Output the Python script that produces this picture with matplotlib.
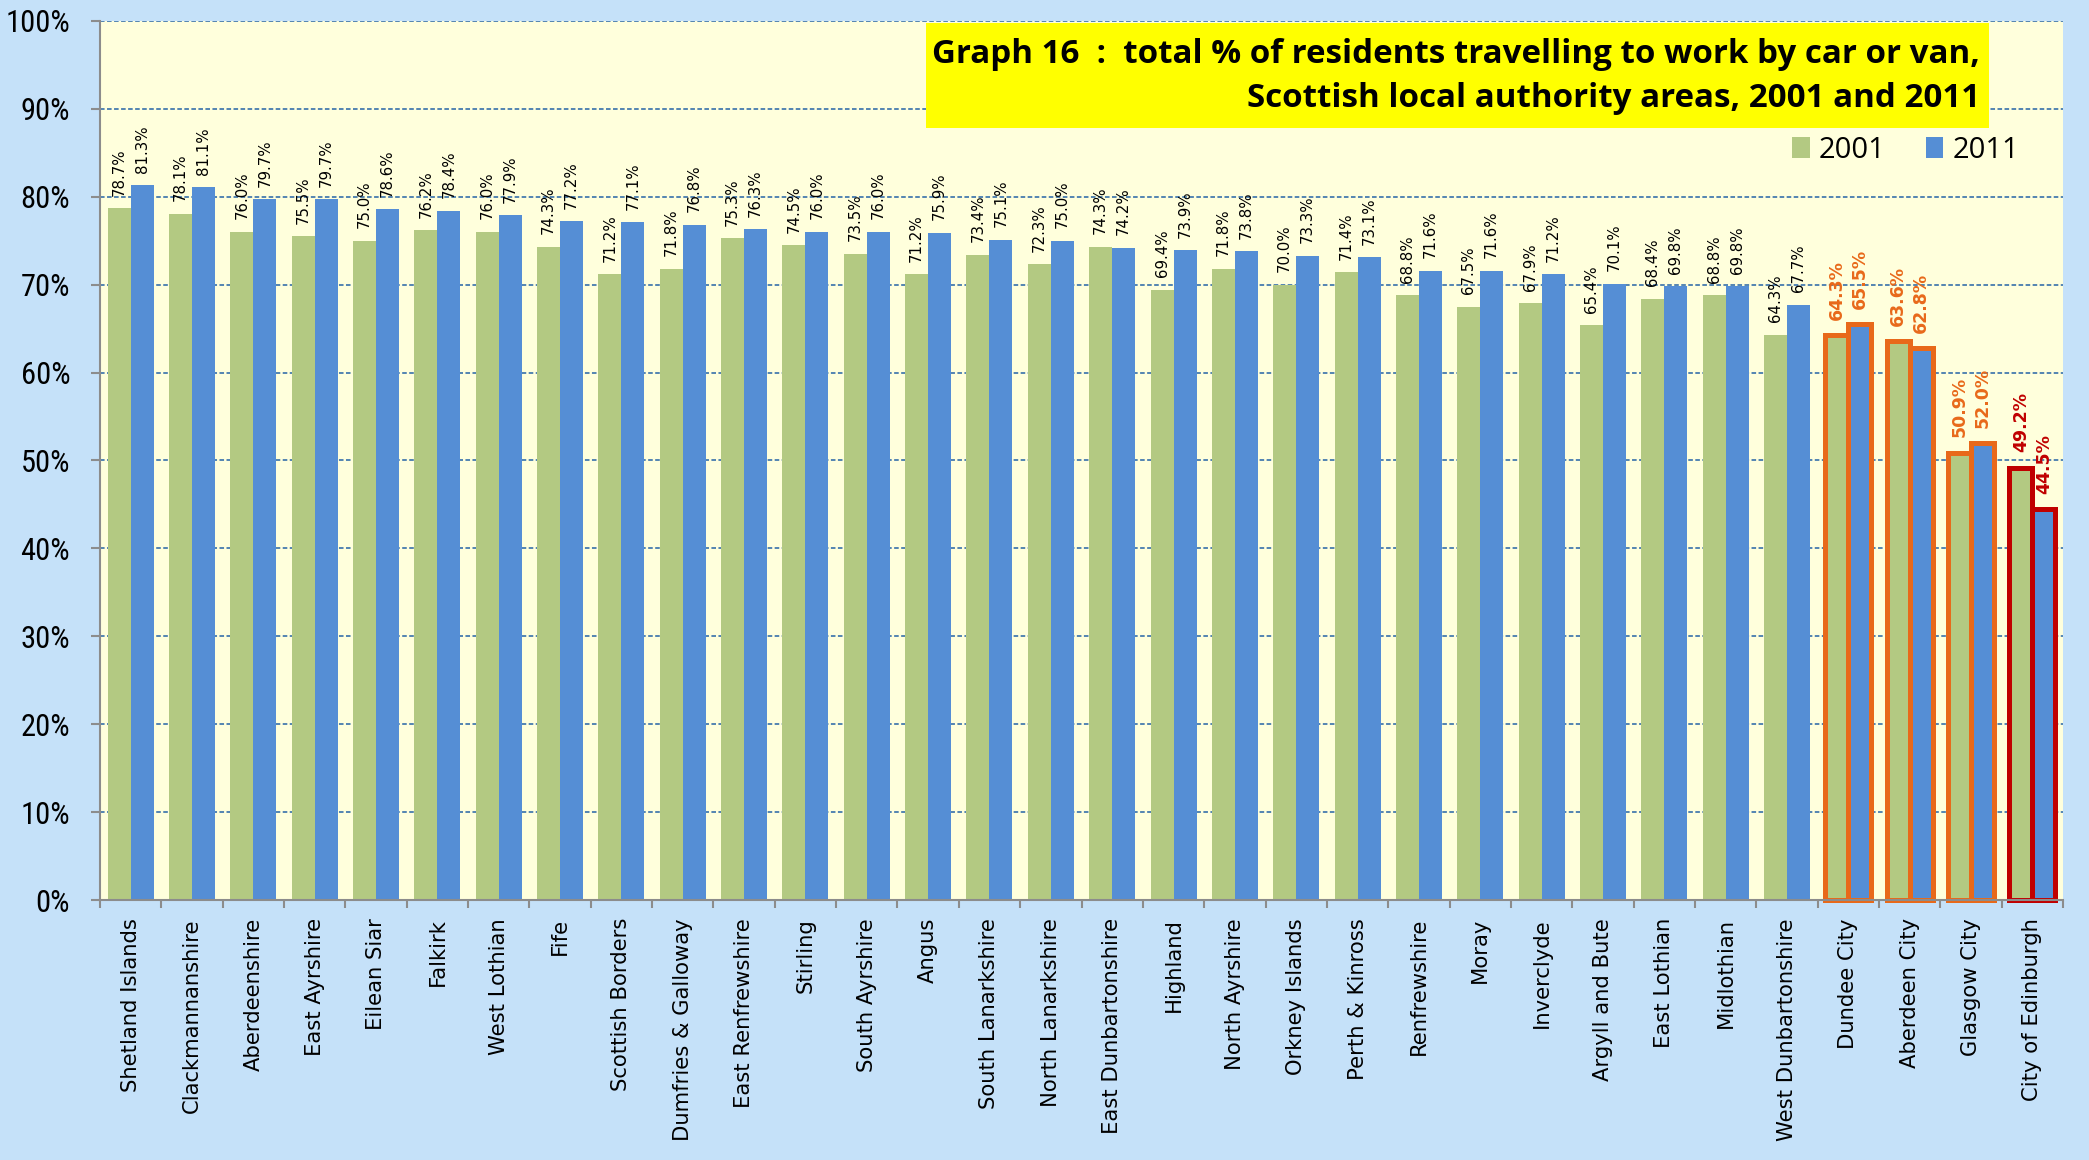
import numpy as np
import matplotlib
matplotlib.use("Agg")
import matplotlib.pyplot as plt
from matplotlib import font_manager
from matplotlib.patches import Rectangle, Patch

# data
areas = ["Shetland Islands", "Clackmannanshire", "Aberdeenshire", "East Ayrshire",
         "Eilean Siar", "Falkirk", "West Lothian", "Fife", "Scottish Borders",
         "Dumfries & Galloway", "East Renfrewshire", "Stirling", "South Ayrshire",
         "Angus", "South Lanarkshire", "North Lanarkshire", "East Dunbartonshire",
         "Highland", "North Ayrshire", "Orkney Islands", "Perth & Kinross",
         "Renfrewshire", "Moray", "Inverclyde", "Argyll and Bute", "East Lothian",
         "Midlothian", "West Dunbartonshire", "Dundee City", "Aberdeen City",
         "Glasgow City", "City of Edinburgh"]
pct_2001 = [78.7, 78.1, 76.0, 75.5, 75.0, 76.2, 76.0, 74.3, 71.2, 71.8, 75.3, 74.5,
            73.5, 71.2, 73.4, 72.3, 74.3, 69.4, 71.8, 70.0, 71.4, 68.8, 67.5, 67.9,
            65.4, 68.4, 68.8, 64.3, 64.3, 63.6, 50.9, 49.2]
pct_2011 = [81.3, 81.1, 79.7, 79.7, 78.6, 78.4, 77.9, 77.2, 77.1, 76.8, 76.3, 76.0,
            76.0, 75.9, 75.1, 75.0, 74.2, 73.9, 73.8, 73.3, 73.1, 71.6, 71.6, 71.2,
            70.1, 69.8, 69.8, 67.7, 65.5, 62.8, 52.0, 44.5]
yticks = list(range(0, 101, 10))
series_names = ["2001", "2011"]

ORANGE = "#E8691A"
RED = "#C00000"
highlight = {"Dundee City": ORANGE, "Aberdeen City": ORANGE,
             "Glasgow City": ORANGE, "City of Edinburgh": RED}

GREEN = "#B3C982"
BLUE = "#558ED5"

installed = {f.name for f in font_manager.fontManager.ttflist}


def pick(*names):
    for n in names:
        if n in installed:
            return n
    return "DejaVu Sans"


narrow = pick("Liberation Sans Narrow", "Roboto Condensed", "Open Sans Condensed",
              "DejaVu Sans Condensed", "Liberation Sans")
wide = pick("Open Sans", "Lato", "Liberation Sans")

fig = plt.figure(figsize=(20.89, 11.6), dpi=100, facecolor="#C5E1F9")
ax = fig.add_axes([100 / 2089, 260 / 1160, 1963 / 2089, 879 / 1160])
ax.set_facecolor("#FFFFDC")

x = np.arange(len(areas))
w = 0.375
b1 = ax.bar(x - w / 2, pct_2001, w, color=GREEN, label=series_names[0], zorder=2)
b2 = ax.bar(x + w / 2, pct_2011, w, color=BLUE, label=series_names[1], zorder=2)

for i, name in enumerate(areas):
    col = highlight.get(name)
    for bars, vals in ((b1, pct_2001), (b2, pct_2011)):
        v = vals[i]
        bx = bars[i].get_x() + bars[i].get_width() / 2
        if col:
            bars[i].set_edgecolor(col)
            bars[i].set_linewidth(3.6)
            bars[i].set_clip_on(False)
            ax.annotate(f"{v:.1f}%", xy=(bx, v), xytext=(0, 11), textcoords="offset points",
                        rotation=90, ha="center", va="bottom", fontsize=12.5,
                        fontweight="bold", color=col, family="DejaVu Sans")
        else:
            ax.annotate(f"{v:.1f}%", xy=(bx, v), xytext=(0, 9), textcoords="offset points",
                        rotation=90, ha="center", va="bottom", fontsize=10.8,
                        color="black", family="DejaVu Sans")

ax.set_xlim(-0.5, len(areas) - 0.5)
ax.set_ylim(0, 100)
ax.set_yticks(yticks)
ax.set_yticklabels([f"{t}%" for t in yticks], family=narrow, fontsize=22)
ax.set_xticks(x)
ax.set_xticklabels(areas, rotation=90, family="DejaVu Sans", fontsize=15.2)
ax.set_xticks(np.arange(len(areas) + 1) - 0.5, minor=True)
ax.tick_params(axis="x", which="major", length=0, pad=13)
ax.tick_params(axis="x", which="minor", length=6, width=1.5, color="#8C8C8C")
ax.tick_params(axis="y", length=6.5, width=1.5, color="#8C8C8C", pad=15)

ax.set_axisbelow(True)
ax.yaxis.grid(True, color="#2563A6", linestyle=(0, (3, 1.6)), linewidth=1.1)
for s in ("top", "right"):
    ax.spines[s].set_visible(False)
for s in ("left", "bottom"):
    ax.spines[s].set_color("#8C8C8C")
    ax.spines[s].set_linewidth(1.5)

# title box
ax.add_patch(Rectangle((0.4208, 0.8783), 0.5415, 0.1194, transform=ax.transAxes,
                       facecolor="#FFFF00", edgecolor="none", zorder=3))
t1 = ax.text(0.9577, 0.952, "Graph 16  :  total % of residents travelling to work by car or van,",
             transform=ax.transAxes, ha="right", va="baseline", fontsize=22,
             fontweight="bold", family=wide, zorder=4)
t2 = ax.text(0.9577, 0.902, "Scottish local authority areas, 2001 and 2011",
             transform=ax.transAxes, ha="right", va="baseline", fontsize=22,
             fontweight="bold", family=wide, zorder=4)
# size the title so the first line spans the box like in the original
fig.canvas.draw()
tw = t1.get_window_extent().width
for t in (t1, t2):
    t.set_fontsize(22 * 1046 / tw)

handles = [Patch(facecolor=GREEN), Patch(facecolor=BLUE)]
ax.legend(handles, series_names, loc="center right", bbox_to_anchor=(0.9775, 0.853),
          ncol=2, frameon=False, prop={"family": wide, "size": 21},
          handlelength=0.6, handleheight=0.75, handletextpad=0.3,
          columnspacing=1.4, borderpad=0, borderaxespad=0)

fig.savefig("out.png", dpi=100, facecolor=fig.get_facecolor())
